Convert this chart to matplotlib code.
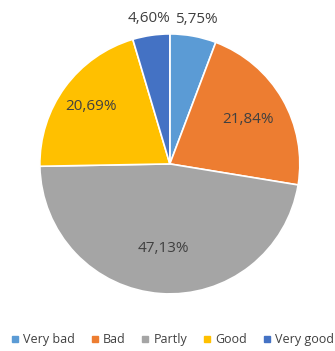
import numpy as np
import matplotlib.pyplot as plt
from matplotlib.lines import Line2D

labels = ['Very bad', 'Bad', 'Partly', 'Good', 'Very good']
values = [5.75, 21.84, 47.13, 20.69, 4.60]
colors = ['#5B9BD5', '#ED7D31', '#A5A5A5', '#FFC000', '#4472C4']
# label distance from centre (in radii), outside for the small slices
label_r = [1.13, 0.69, 0.65, 0.75, 1.13]

plt.rcParams['font.family'] = ['Open Sans', 'DejaVu Sans']

fig = plt.figure(figsize=(3.35, 3.51), dpi=100)
ax = fig.add_axes([0.507 - 0.388, 0.533 - 0.3704, 0.776, 0.7408])

wedges, _ = ax.pie(values, colors=colors, startangle=90, counterclock=False,
                   wedgeprops=dict(edgecolor='white', linewidth=1.2))
ax.set_xlim(-1, 1)
ax.set_ylim(-1, 1)

for w, v, r in zip(wedges, values, label_r):
    ang = np.deg2rad((w.theta1 + w.theta2) / 2)
    txt = f'{v:.2f}%'.replace('.', ',')
    ax.text(r * np.cos(ang), r * np.sin(ang), txt, ha='center', va='center',
            fontsize=11, color='#404040')

handles = [Line2D([], [], marker='s', linestyle='', markersize=5,
                  markerfacecolor=c, markeredgecolor=c) for c in colors]
fig.legend(handles, labels, loc='center', bbox_to_anchor=(0.515, 0.032), ncol=5,
           frameon=False, fontsize=9, handlelength=0.6, handletextpad=0.35,
           columnspacing=1.3, labelcolor='#404040')

fig.savefig('out.png', dpi=100)
